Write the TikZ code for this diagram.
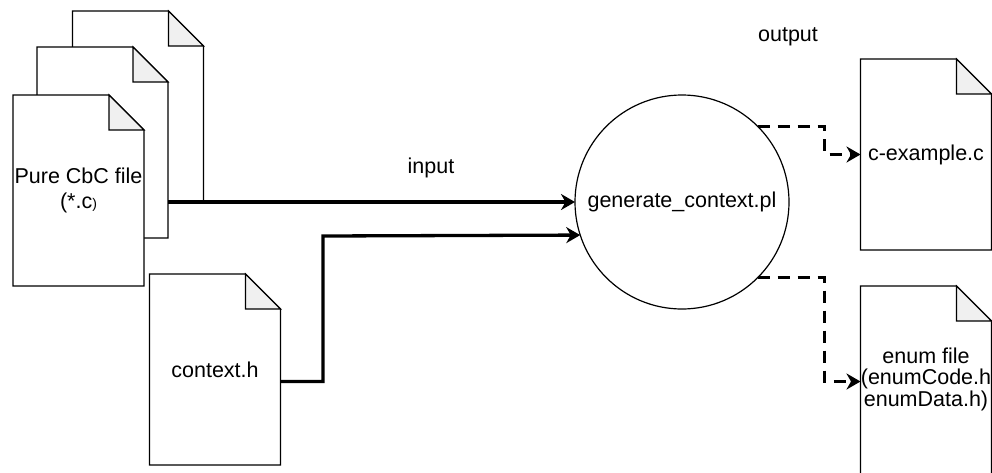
\documentclass[tikz,border=0pt]{standalone}
\usepackage{fontspec}
\setmainfont{Liberation Sans}
\usetikzlibrary{arrows.meta}
\tikzset{
  docbox/.style={rectangle, minimum width=131pt, minimum height=191pt, inner sep=0pt, outer sep=0pt},
  docline/.style={draw=black, fill=white, line width=1.2pt, line join=miter},
  foldline/.style={draw=black, fill=black!6, line width=1.2pt, line join=miter},
  lbl/.style={align=center, inner sep=0pt, font=\fontsize{21.5}{22}\selectfont},
  procnode/.style={circle, draw=black, line width=1.2pt, minimum size=214pt, inner sep=0pt, outer sep=0pt, font=\fontsize{21.5}{22}\selectfont},
  flow/.style={line width=3.3pt, -{Stealth[length=14pt,width=16pt,inset=4.5pt]}},
  outflow/.style={line width=3.3pt, dash pattern=on 12pt off 8pt, -{Stealth[length=14pt,width=16pt,inset=4.5pt]}}
}
\newcommand{\docpage}[1]{%
  \path[docline] (#1.north west) -- ([xshift=-35pt]#1.north east) -- ([yshift=-35pt]#1.north east) -- (#1.south east) -- (#1.south west) -- cycle;
  \path[foldline] ([xshift=-35pt]#1.north east) -- ([xshift=-35pt,yshift=-35pt]#1.north east) -- ([yshift=-35pt]#1.north east) -- cycle;
}
\begin{document}
\begin{tikzpicture}[x=1pt,y=-1pt]
\useasboundingbox (0,0) rectangle (992,472);
% stacked source files
\node[docbox] (back) at (138,106.5) {};
\docpage{back}
\node[docbox] (mid) at (102.5,142.5) {};
\docpage{mid}
\node[docbox] (front) at (78.5,190.5) {};
\docpage{front}
\node[lbl, font=\fontsize{21.5}{24.5}\selectfont] (frontlbl) at (front.center) {Pure CbC file\\(*.c{\fontsize{14}{14}\selectfont)}};
% context.h
\node[docbox] (ctx) at (215,369.5) {};
\docpage{ctx}
\node[lbl] (ctxlbl) at (ctx.center) {context.h};
% outputs
\node[docbox] (cex) at (926,154.5) {};
\docpage{cex}
\node[lbl] (cexlbl) at (cex.center) {c-example.c};
\node[docbox] (enum) at (926,381.5) {};
\docpage{enum}
\node[lbl, font=\fontsize{21.5}{21.5}\selectfont] (enumlbl) at (926,379) {enum file\\(enumCode.h\\enumData.h)};
% process
\node[procnode] (gen) at (682,202) {generate\_context.pl};
% labels
\node[lbl] (inlbl) at (431,168) {input};
\node[lbl] (outlbl) at (788,37) {output};
% connectors
\draw[flow] (mid.east |- gen.center) -- (gen.west);
\draw[flow] ([yshift=-12pt]ctx.east) -| (323,236) -- (gen.198.5);
\draw[outflow] (gen.45) -- ++(67,0) |- (cex.west);
\draw[outflow] (gen.-45) -- ++(67,0) |- (enum.west);
\end{tikzpicture}
\end{document}
